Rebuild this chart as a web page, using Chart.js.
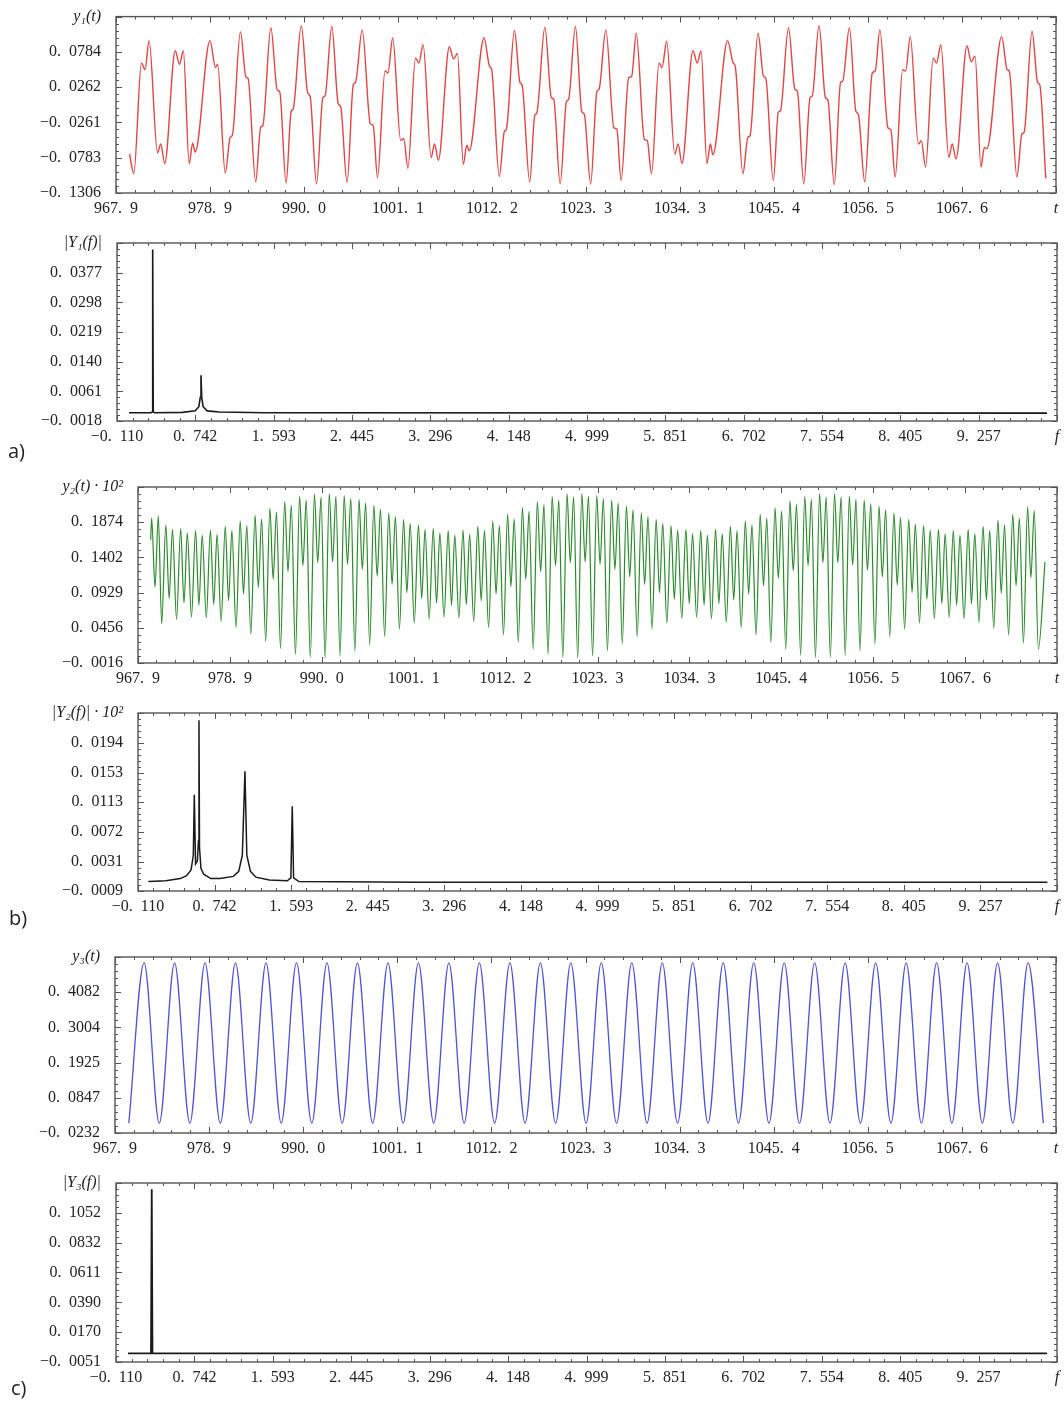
<!DOCTYPE html>
<html>
<head>
<meta charset="utf-8">
<script src="https://cdn.jsdelivr.net/npm/chart.js@4.4.0/dist/chart.umd.min.js"></script>
<style>
  html, body { margin: 0; padding: 0; background: #fff; }
  #page { position: relative; width: 1064px; height: 1402px; background: #fff; overflow: hidden; }
  #page canvas { position: absolute; left: 0; }
  .tag { position: absolute; font-family: 'Open Sans', 'Liberation Sans', sans-serif; font-size: 20px; line-height: 1; color: #222; }
</style>
</head>
<body>
<div id="page">
  <canvas id="timeA"></canvas>
  <canvas id="specA"></canvas>
  <canvas id="timeB"></canvas>
  <canvas id="specB"></canvas>
  <canvas id="timeC"></canvas>
  <canvas id="specC"></canvas>
  <div class="tag" style="left:8px;top:441px">a)</div>
  <div class="tag" style="left:9px;top:908px">b)</div>
  <div class="tag" style="left:11px;top:1378px">c)</div>
</div>
<script>
// --- axis ticks ---
const timeTicks = [967.9, 978.99, 990.08, 1001.17, 1012.26, 1023.35, 1034.44, 1045.53, 1056.62, 1067.71, 1078.8];
const timeTickLabels = ['967. 9', '978. 9', '990. 0', '1001. 1', '1012. 2', '1023. 3', '1034. 3', '1045. 4', '1056. 5', '1067. 6', 't'];
const freqTicks = [-0.110, 0.7415, 1.593, 2.4445, 3.296, 4.1475, 4.999, 5.8505, 6.702, 7.5535, 8.405, 9.2565, 10.108];
const freqTickLabels = ['\u22120. 110', '0. 742', '1. 593', '2. 445', '3. 296', '4. 148', '4. 999', '5. 851', '6. 702', '7. 554', '8. 405', '9. 257', 'f'];

const yTicksA = [-0.1306, -0.0783, -0.0261, 0.0262, 0.0784, 0.1306];
const yLabelsA = ['\u22120. 1306', '\u22120. 0783', '\u22120. 0261', '0. 0262', '0. 0784', 'y\u2081(t)'];
const yTicksSpecA = [-0.0018, 0.0061, 0.0140, 0.0219, 0.0298, 0.0377, 0.0456];
const yLabelsSpecA = ['\u22120. 0018', '0. 0061', '0. 0140', '0. 0219', '0. 0298', '0. 0377', '|Y\u2081(f)|'];
const yTicksB = [-0.0016, 0.0456, 0.0929, 0.1402, 0.1874, 0.2347];
const yLabelsB = ['\u22120. 0016', '0. 0456', '0. 0929', '0. 1402', '0. 1874', 'y\u2082(t) \u00b7 10\u00b2'];
const yTicksSpecB = [-0.0009, 0.0031, 0.0072, 0.0113, 0.0153, 0.0194, 0.0235];
const yLabelsSpecB = ['\u22120. 0009', '0. 0031', '0. 0072', '0. 0113', '0. 0153', '0. 0194', '|Y\u2082(f)| \u00b7 10\u00b2'];
const yTicksC = [-0.0232, 0.0847, 0.1925, 0.3004, 0.4082, 0.5161];
const yLabelsC = ['\u22120. 0232', '0. 0847', '0. 1925', '0. 3004', '0. 4082', 'y\u2083(t)'];
const yTicksSpecC = [-0.0051, 0.0170, 0.0390, 0.0611, 0.0832, 0.1052, 0.1273];
const yLabelsSpecC = ['\u22120. 0051', '0. 0170', '0. 0390', '0. 0611', '0. 0832', '0. 1052', '|Y\u2083(f)|'];

// --- a) y1(t): turning points ---
const timeA = [
  969.50, 970.00,
  970.90, 971.33, 971.80, 972.80, 973.18, 973.65,
  974.89, 975.39, 975.84, 976.54, 976.94, 977.24,
  978.99, 979.64, 979.89, 980.79,
  981.38, 981.63, 982.58, 983.23, 983.48, 984.38,
  984.97, 985.22, 986.17, 986.92, 987.22, 987.97,
  988.56, 988.81, 989.76, 990.51, 990.81, 991.56,
  992.31, 992.56, 993.36, 994.11, 994.41, 995.16,
  995.90, 996.15, 996.95, 997.90, 998.25, 998.75,
  999.64, 999.99, 1000.54, 1001.49, 1001.84, 1002.34,
  1003.23, 1003.63, 1004.13, 1005.08, 1005.48, 1005.93,
  1007.23, 1007.73, 1008.18, 1008.88, 1009.28, 1009.58,
  1011.32, 1011.97, 1012.22, 1013.12,
  1013.71, 1013.96, 1014.91, 1015.56, 1015.81, 1016.71,
  1017.30, 1017.55, 1018.50, 1019.25, 1019.55, 1020.30,
  1021.05, 1021.30, 1022.10, 1022.85, 1023.15, 1023.90,
  1024.64, 1024.89, 1025.69, 1026.64, 1026.99, 1027.49,
  1028.38, 1028.73, 1029.28, 1030.23, 1030.58, 1031.08,
  1031.97, 1032.32, 1032.87, 1033.82, 1034.22, 1034.67,
  1035.97, 1036.47, 1036.92, 1037.62, 1038.02, 1038.32,
  1040.06, 1040.71, 1040.96, 1041.86,
  1042.45, 1042.70, 1043.65, 1044.30, 1044.55, 1045.45,
  1046.04, 1046.29, 1047.24, 1047.99, 1048.29, 1049.04,
  1049.79, 1050.04, 1050.84, 1051.59, 1051.89, 1052.64,
  1053.38, 1053.63, 1054.43, 1055.18, 1055.48, 1056.23,
  1057.12, 1057.47, 1058.02, 1058.97, 1059.32, 1059.82,
  1060.71, 1061.06, 1061.61, 1062.56, 1062.91, 1063.41,
  1064.31, 1064.71, 1065.21, 1066.16, 1066.56, 1067.01,
  1068.30, 1068.80, 1069.25, 1069.95, 1070.35, 1070.65,
  1072.39, 1073.04, 1073.29, 1074.19,
  1074.78, 1075.03, 1075.98, 1076.63, 1076.88, 1077.60
];
const valueA = [
  -0.073, -0.102,
  0.062, 0.052, 0.095, -0.071, -0.058, -0.087,
  0.080, 0.060, 0.080, -0.087, -0.057, -0.070,
  0.095, 0.055, 0.060, -0.101,
  -0.048, -0.045, 0.108, 0.041, 0.039, -0.114,
  -0.033, -0.031, 0.114, 0.022, 0.019, -0.116,
  -0.010, -0.006, 0.117, 0.018, 0.012, -0.117,
  0.011, 0.013, 0.116, 0.002, -0.003, -0.115,
  0.030, 0.033, 0.111, -0.028, -0.031, -0.108,
  0.050, 0.047, 0.099, -0.053, -0.050, -0.094,
  0.069, 0.062, 0.089, -0.078, -0.058, -0.082,
  0.086, 0.068, 0.076, -0.088, -0.060, -0.068,
  0.099, 0.057, 0.052, -0.106,
  -0.040, -0.036, 0.110, 0.033, 0.029, -0.114,
  -0.016, -0.012, 0.115, 0.011, 0.008, -0.117,
  0.005, 0.008, 0.116, -0.010, -0.014, -0.117,
  0.020, 0.023, 0.111, -0.034, -0.036, -0.112,
  0.040, 0.042, 0.106, -0.051, -0.053, -0.102,
  0.062, 0.055, 0.094, -0.073, -0.058, -0.087,
  0.080, 0.062, 0.080, -0.087, -0.058, -0.074,
  0.095, 0.062, 0.057, -0.102,
  -0.048, -0.046, 0.106, 0.042, 0.040, -0.112,
  -0.011, -0.009, 0.114, 0.023, 0.020, -0.117,
  0.011, 0.013, 0.117, 0.011, 0.007, -0.118,
  0.033, 0.035, 0.114, -0.009, -0.014, -0.114,
  0.047, 0.050, 0.111, -0.034, -0.037, -0.107,
  0.052, 0.050, 0.101, -0.058, -0.053, -0.092,
  0.069, 0.062, 0.089, -0.078, -0.058, -0.080,
  0.087, 0.064, 0.072, -0.092, -0.063, -0.065,
  0.101, 0.052, 0.050, -0.107,
  -0.043, -0.041, 0.109, 0.033, 0.030, -0.109
];

// --- b) y2(t)*10^2: deep trough, peak, dip, peak per cycle ---
const timeB = [
  969.43, 969.55, 969.95, 970.35,
  970.76, 971.26, 971.66, 972.06,   972.55, 973.05, 973.45, 973.85,
  974.35, 974.85, 975.25, 975.65,   976.14, 976.64, 977.04, 977.44,
  977.93, 978.43, 978.83, 979.23,   979.73, 980.23, 980.63, 981.03,
  981.52, 982.02, 982.42, 982.82,   983.31, 983.81, 984.21, 984.61,
  985.10, 985.60, 986.00, 986.40,   986.90, 987.40, 987.80, 988.20,
  988.69, 989.19, 989.59, 989.99,   990.48, 990.98, 991.38, 991.78,
  992.28, 992.78, 993.18, 993.58,   994.07, 994.57, 994.97, 995.37,
  995.86, 996.36, 996.76, 997.16,   997.66, 998.16, 998.56, 998.96,
  999.45, 999.95, 1000.35, 1000.75, 1001.24, 1001.74, 1002.14, 1002.54,
  1003.03, 1003.53, 1003.93, 1004.33, 1004.83, 1005.33, 1005.73, 1006.13,
  1006.62, 1007.12, 1007.52, 1007.92, 1008.41, 1008.91, 1009.31, 1009.71,
  1010.21, 1010.71, 1011.11, 1011.51, 1012.00, 1012.50, 1012.90, 1013.30,
  1013.79, 1014.29, 1014.69, 1015.09, 1015.59, 1016.09, 1016.49, 1016.89,
  1017.38, 1017.88, 1018.28, 1018.68, 1019.17, 1019.67, 1020.07, 1020.47,
  1020.96, 1021.46, 1021.86, 1022.26, 1022.76, 1023.26, 1023.66, 1024.06,
  1024.55, 1025.05, 1025.45, 1025.85, 1026.34, 1026.84, 1027.24, 1027.64,
  1028.14, 1028.64, 1029.04, 1029.44, 1029.93, 1030.43, 1030.83, 1031.23,
  1031.72, 1032.22, 1032.62, 1033.02, 1033.52, 1034.02, 1034.42, 1034.82,
  1035.31, 1035.81, 1036.21, 1036.61, 1037.10, 1037.60, 1038.00, 1038.40,
  1038.89, 1039.39, 1039.79, 1040.19, 1040.69, 1041.19, 1041.59, 1041.99,
  1042.48, 1042.98, 1043.38, 1043.78, 1044.27, 1044.77, 1045.17, 1045.57,
  1046.07, 1046.57, 1046.97, 1047.37, 1047.86, 1048.36, 1048.76, 1049.16,
  1049.65, 1050.15, 1050.55, 1050.95, 1051.45, 1051.95, 1052.35, 1052.75,
  1053.24, 1053.74, 1054.14, 1054.54, 1055.03, 1055.53, 1055.93, 1056.33,
  1056.82, 1057.32, 1057.72, 1058.12, 1058.62, 1059.12, 1059.52, 1059.92,
  1060.41, 1060.91, 1061.31, 1061.71, 1062.20, 1062.70, 1063.10, 1063.50,
  1064.00, 1064.50, 1064.90, 1065.30, 1065.79, 1066.29, 1066.69, 1067.09,
  1067.58, 1068.08, 1068.48, 1068.88, 1069.38, 1069.88, 1070.28, 1070.68,
  1071.17, 1071.67, 1072.07, 1072.47, 1072.96, 1073.46, 1073.86, 1074.26,
  1074.75, 1075.25, 1075.65, 1076.05, 1076.55, 1077.35
];
const valueB = [
  0.164, 0.193, 0.100, 0.196,
  0.051, 0.184, 0.085, 0.178,   0.057, 0.179, 0.079, 0.173,
  0.060, 0.176, 0.076, 0.170,   0.059, 0.177, 0.077, 0.171,
  0.054, 0.182, 0.082, 0.176,   0.046, 0.189, 0.091, 0.183,
  0.037, 0.197, 0.100, 0.192,   0.027, 0.206, 0.111, 0.201,
  0.018, 0.215, 0.121, 0.210,   0.010, 0.222, 0.129, 0.217,
  0.006, 0.225, 0.133, 0.221,   0.005, 0.226, 0.134, 0.222,
  0.008, 0.223, 0.131, 0.219,   0.014, 0.218, 0.124, 0.213,
  0.023, 0.210, 0.115, 0.205,   0.034, 0.200, 0.104, 0.195,
  0.044, 0.191, 0.093, 0.186,   0.052, 0.184, 0.085, 0.178,
  0.057, 0.179, 0.079, 0.173,   0.060, 0.176, 0.076, 0.170,
  0.059, 0.177, 0.077, 0.171,   0.054, 0.182, 0.082, 0.176,
  0.046, 0.189, 0.091, 0.183,   0.036, 0.198, 0.101, 0.192,
  0.026, 0.207, 0.111, 0.202,   0.017, 0.215, 0.121, 0.211,
  0.010, 0.222, 0.129, 0.217,   0.006, 0.226, 0.133, 0.221,
  0.005, 0.226, 0.134, 0.222,   0.008, 0.223, 0.131, 0.219,
  0.015, 0.217, 0.124, 0.213,   0.024, 0.209, 0.114, 0.204,
  0.034, 0.200, 0.104, 0.195,   0.044, 0.191, 0.093, 0.186,
  0.052, 0.183, 0.084, 0.177,   0.058, 0.178, 0.078, 0.172,
  0.060, 0.176, 0.076, 0.170,   0.058, 0.178, 0.078, 0.172,
  0.053, 0.182, 0.083, 0.176,   0.046, 0.189, 0.091, 0.184,
  0.036, 0.198, 0.102, 0.193,   0.026, 0.207, 0.112, 0.202,
  0.017, 0.216, 0.122, 0.211,   0.009, 0.222, 0.129, 0.218,
  0.006, 0.226, 0.133, 0.221,   0.006, 0.226, 0.133, 0.221,
  0.009, 0.222, 0.130, 0.218,   0.015, 0.217, 0.123, 0.212,
  0.024, 0.209, 0.114, 0.204,   0.034, 0.200, 0.103, 0.194,
  0.044, 0.191, 0.093, 0.185,   0.052, 0.183, 0.084, 0.177,
  0.058, 0.178, 0.078, 0.172,   0.060, 0.176, 0.076, 0.170,
  0.058, 0.178, 0.078, 0.172,   0.053, 0.182, 0.083, 0.176,
  0.045, 0.190, 0.092, 0.184,   0.036, 0.198, 0.102, 0.193,
  0.025, 0.208, 0.113, 0.203,   0.017, 0.134
];

// --- c) y3(t): troughs and crests ---
const timeC = [
  969.53, 971.33, 973.12, 974.92, 976.72, 978.51, 980.31, 982.10, 983.90, 985.70,
  987.49, 989.29, 991.09, 992.88, 994.68, 996.47, 998.27, 1000.07, 1001.86, 1003.66,
  1005.46, 1007.25, 1009.05, 1010.84, 1012.64, 1014.44, 1016.23, 1018.03, 1019.83, 1021.62,
  1023.42, 1025.21, 1027.01, 1028.81, 1030.60, 1032.40, 1034.20, 1035.99, 1037.79, 1039.58,
  1041.38, 1043.18, 1044.97, 1046.77, 1048.57, 1050.36, 1052.16, 1053.95, 1055.75, 1057.55,
  1059.34, 1061.14, 1062.94, 1064.73, 1066.53, 1068.32, 1070.12, 1071.92, 1073.71, 1075.51,
  1077.31
];
const valueC = [
  0.007, 0.498, 0.007, 0.498, 0.007, 0.498, 0.007, 0.498, 0.007, 0.498,
  0.007, 0.498, 0.007, 0.498, 0.007, 0.498, 0.007, 0.498, 0.007, 0.498,
  0.007, 0.498, 0.007, 0.498, 0.007, 0.498, 0.007, 0.498, 0.007, 0.498,
  0.007, 0.498, 0.007, 0.498, 0.007, 0.498, 0.007, 0.498, 0.007, 0.498,
  0.007, 0.498, 0.007, 0.498, 0.007, 0.498, 0.007, 0.498, 0.007, 0.498,
  0.007, 0.498, 0.007, 0.498, 0.007, 0.498, 0.007, 0.498, 0.007, 0.498,
  0.007
];

// --- spectra ---
const freqA = [0.02, 0.26, 0.272, 0.278, 0.284, 0.30, 0.60, 0.74, 0.78, 0.795, 0.803, 0.811, 0.826, 0.87, 1.0, 1.5, 10.0];
const specA = [0.0004, 0.0004, 0.0006, 0.0439, 0.0006, 0.0004, 0.0005, 0.0009, 0.0020, 0.0045, 0.0104, 0.0045, 0.0020, 0.0009, 0.0006, 0.0004, 0.0003];
const freqB = [0.005, 0.20, 0.36, 0.43, 0.48, 0.505, 0.516, 0.530, 0.550, 0.562, 0.568, 0.574, 0.59, 0.62, 0.70, 0.80, 0.95, 1.01, 1.05, 1.079, 1.10, 1.14, 1.20, 1.35, 1.55, 1.59, 1.605, 1.62, 1.68, 3.0, 10.0];
const specB = [0.0004, 0.0005, 0.0008, 0.0012, 0.0020, 0.0040, 0.0123, 0.0028, 0.0032, 0.0060, 0.0225, 0.0050, 0.0022, 0.0014, 0.0008, 0.0008, 0.0011, 0.0018, 0.0040, 0.0155, 0.0040, 0.0018, 0.0010, 0.0006, 0.0005, 0.0009, 0.0107, 0.0009, 0.0004, 0.0003, 0.0003];
const freqC = [0.02, 0.27, 0.278, 0.286, 10.0];
const specC = [0.0013, 0.0013, 0.1227, 0.0013, 0.0013];

const SERIF = "'Liberation Serif', 'DejaVu Serif', serif";

// frame with inward major/minor ticks on all four sides
const frameTicks = {
  id: 'frameTicks',
  afterDatasetsDraw(chart) {
    const { ctx, chartArea: a, scales } = chart;
    ctx.save();
    ctx.strokeStyle = '#555';
    ctx.lineWidth = 1;
    ctx.beginPath();
    const mark = (scale, horizontal) => {
      const vals = scale.ticks.map(t => t.value);
      vals.forEach((v, i) => {
        const marks = [[v, 6]];
        if (i < vals.length - 1) {
          for (let m = 1; m < 5; m++) marks.push([v + (vals[i + 1] - v) * m / 5, 3]);
        }
        marks.forEach(([u, len]) => {
          const p = Math.round(scale.getPixelForValue(u)) + 0.5;
          if (horizontal) {
            ctx.moveTo(p, a.bottom); ctx.lineTo(p, a.bottom - len);
            ctx.moveTo(p, a.top); ctx.lineTo(p, a.top + len);
          } else {
            ctx.moveTo(a.left, p); ctx.lineTo(a.left + len, p);
            ctx.moveTo(a.right, p); ctx.lineTo(a.right - len, p);
          }
        });
      });
    };
    mark(scales.x, true);
    mark(scales.y, false);
    ctx.stroke();
    ctx.lineWidth = 1.4;
    ctx.strokeRect(a.left, a.top, a.right - a.left, a.bottom - a.top);
    ctx.restore();
  }
};

function tickFont(c, last) {
  return { family: SERIF, size: 16, style: c.index === last ? 'italic' : 'normal' };
}

function spaced(labels) {
  return labels.map(s => s.replace('. ', '.\u2002'));
}

function line(xs, ys, color, width, smooth) {
  return {
    data: xs.map((x, i) => ({ x: x, y: ys[i] })),
    borderColor: color,
    borderWidth: width,
    pointRadius: 0,
    fill: false,
    tension: 0,
    cubicInterpolationMode: smooth ? 'monotone' : 'default'
  };
}

function panel(id, box, xTicks, xLabels, yTicks, yLabels, dataset) {
  const canvas = document.getElementById(id);
  const top = Math.max(0, box.top - 24);
  const height = box.bottom + 34 - top;
  canvas.width = 1064;
  canvas.height = height;
  canvas.style.top = top + 'px';
  canvas.style.width = '1064px';
  canvas.style.height = height + 'px';
  const xl = spaced(xLabels), yl = spaced(yLabels);
  return new Chart(canvas, {
    type: 'line',
    data: { datasets: [dataset] },
    options: {
      responsive: false,
      animation: false,
      devicePixelRatio: 1,
      layout: { padding: { left: 0, top: box.top - top, right: 1064 - box.right, bottom: 0 } },
      plugins: { legend: { display: false }, tooltip: { enabled: false } },
      scales: {
        x: {
          type: 'linear',
          min: xTicks[0],
          max: xTicks[xTicks.length - 1],
          afterBuildTicks: s => { s.ticks = xTicks.map(v => ({ value: v })); },
          afterFit: s => { s.height = 34; },
          grid: { display: false },
          border: { display: false },
          ticks: {
            autoSkip: false, maxRotation: 0, padding: -2, color: '#222',
            font: c => tickFont(c, xTicks.length - 1),
            callback: (v, i) => xl[i]
          }
        },
        y: {
          type: 'linear',
          min: yTicks[0],
          max: yTicks[yTicks.length - 1],
          afterBuildTicks: s => { s.ticks = yTicks.map(v => ({ value: v })); },
          afterFit: s => { s.width = box.left; },
          grid: { display: false },
          border: { display: false },
          ticks: {
            autoSkip: false, padding: 7, color: '#222',
            font: c => tickFont(c, yTicks.length - 1),
            callback: (v, i) => yl[i]
          }
        }
      }
    },
    plugins: [frameTicks]
  });
}

panel('timeA', { left: 116, top: 15, right: 1056, bottom: 193 }, timeTicks, timeTickLabels, yTicksA, yLabelsA,
  line(timeA, valueA, '#e24444', 1.4, true));
panel('specA', { left: 117, top: 243, right: 1057, bottom: 421 }, freqTicks, freqTickLabels, yTicksSpecA, yLabelsSpecA,
  line(freqA, specA, '#1a1a1a', 1.6, false));
panel('timeB', { left: 138, top: 487, right: 1057, bottom: 663 }, timeTicks, timeTickLabels, yTicksB, yLabelsB,
  line(timeB, valueB, '#2a8a2a', 1.2, true));
panel('specB', { left: 138, top: 713, right: 1057, bottom: 891 }, freqTicks, freqTickLabels, yTicksSpecB, yLabelsSpecB,
  line(freqB, specB, '#1a1a1a', 1.5, false));
panel('timeC', { left: 115, top: 957, right: 1056, bottom: 1133 }, timeTicks, timeTickLabels, yTicksC, yLabelsC,
  line(timeC, valueC, '#4d52d6', 1.3, true));
panel('specC', { left: 116, top: 1183, right: 1057, bottom: 1362 }, freqTicks, freqTickLabels, yTicksSpecC, yLabelsSpecC,
  line(freqC, specC, '#1a1a1a', 1.8, false));
</script>
</body>
</html>
